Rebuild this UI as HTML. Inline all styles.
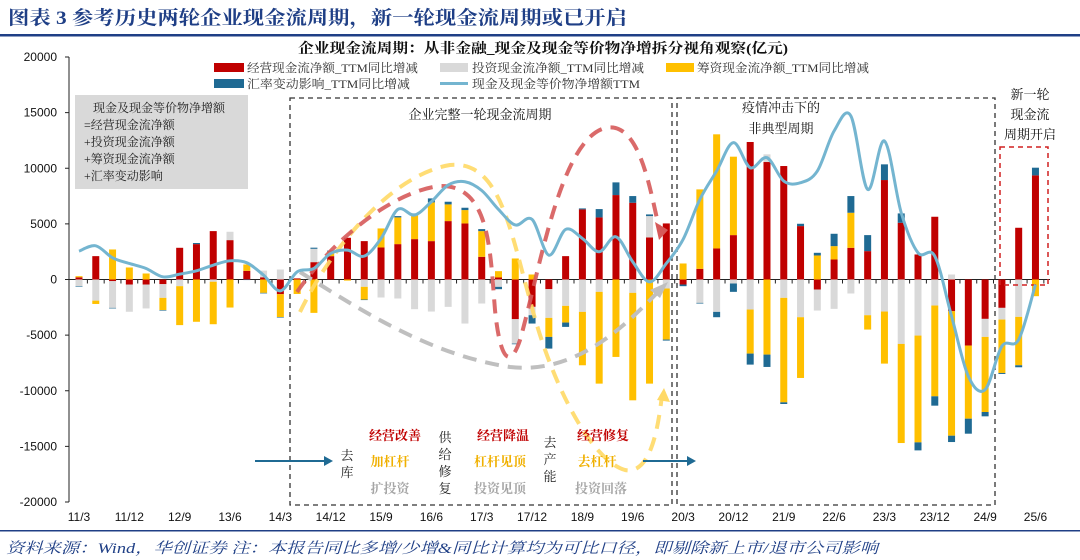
<!DOCTYPE html>
<html><head><meta charset="utf-8"><style>
body{margin:0;background:#fff;}
svg{display:block;font-family:"Liberation Sans","Noto Serif CJK SC","Noto Sans CJK SC",sans-serif;}
.cj{font-family:"Liberation Serif","Noto Serif CJK SC",serif;}
</style></head><body>
<svg id="c" width="1080" height="560" viewBox="0 0 1080 560">
<text x="8" y="24" class="cj" font-size="19" font-weight="bold" fill="#1f3f86" textLength="619" lengthAdjust="spacingAndGlyphs">图表 3  参考历史两轮企业现金流周期，新一轮现金流周期或已开启</text>
<rect x="0" y="34" width="1080" height="2.5" fill="#1f3f86"/>
<text x="298" y="53" class="cj" font-size="14" font-weight="bold" fill="#111" textLength="490" lengthAdjust="spacingAndGlyphs">企业现金流周期：从非金融_现金及现金等价物净增拆分视角观察(亿元)</text>
<g font-size="12" class="cj" fill="#333">
<g><rect x="214" y="63" width="30" height="9" fill="#c00000"/><text x="247" y="72" textLength="171" lengthAdjust="spacingAndGlyphs">经营现金流净额_TTM同比增减</text></g>
<g><rect x="440" y="63" width="28" height="9" fill="#d9d9d9"/><text x="472" y="72" textLength="172" lengthAdjust="spacingAndGlyphs">投资现金流净额_TTM同比增减</text></g>
<g><rect x="666" y="63" width="28" height="9" fill="#ffc000"/><text x="697" y="72" textLength="172" lengthAdjust="spacingAndGlyphs">筹资现金流净额_TTM同比增减</text></g>
<g><rect x="214" y="79" width="30" height="9" fill="#1f6a93"/><text x="247" y="88" textLength="163" lengthAdjust="spacingAndGlyphs">汇率变动影响_TTM同比增减</text></g>
<g><rect x="440" y="82" width="28" height="3" fill="#74b5d0"/><text x="472" y="88" textLength="168" lengthAdjust="spacingAndGlyphs">现金及现金等价物净增额TTM</text></g>
</g>
<g>
<rect x="75" y="95" width="173" height="94" fill="#d9d9d9"/>
<g font-size="12" class="cj" fill="#222">
<text x="93" y="112">现金及现金等价物净增额</text>
<text x="84" y="129">=经营现金流净额</text>
<text x="84" y="146">+投资现金流净额</text>
<text x="84" y="163">+筹资现金流净额</text>
<text x="84" y="180">+汇率变动影响</text>
</g></g>
<g id="axes"></g>
<g id="bars"></g>
<g id="deco" fill="none" stroke-linecap="butt">
<rect x="290" y="98" width="382" height="407" stroke="#333" stroke-width="1.3" stroke-dasharray="5,4"/>
<rect x="677" y="98" width="318" height="407" stroke="#333" stroke-width="1.3" stroke-dasharray="5,4"/>
<rect x="1000" y="147" width="48" height="138" stroke="#d02020" stroke-width="1.5" stroke-dasharray="5,4"/>
<path d="M300,312 C330,250 390,175 450,165 C500,160 510,230 530,300 C550,380 590,460 625,470 C650,475 658,430 662,395" stroke="#ffd966" stroke-width="4" stroke-dasharray="14,9" opacity="0.9"/>
<path d="M297,292 C340,230 400,190 440,186 C490,185 490,250 495,310 C500,360 510,370 520,340 C540,270 560,140 605,128 C640,120 650,190 660,232" stroke="#d65a5a" stroke-width="4" stroke-dasharray="14,9" opacity="0.9"/>
<path d="M300,272 C360,310 430,355 510,367 C580,375 630,320 660,290" stroke="#bfbfbf" stroke-width="4" stroke-dasharray="14,9"/>
<polygon points="655,222 668,230 659,240" fill="#d65a5a"/>
<polygon points="650,290 668,282 660,298" fill="#bfbfbf"/>
<polygon points="657,400 664,388 670,402" fill="#ffd966"/>
<line x1="255" y1="461" x2="326" y2="461" stroke="#1f6a93" stroke-width="2"/>
<polygon points="333,461 324,456 324,466" fill="#1f6a93"/>
<line x1="643" y1="461" x2="688" y2="461" stroke="#1f6a93" stroke-width="2"/>
<polygon points="696,461 687,456 687,466" fill="#1f6a93"/>
</g>
<g id="line"></g>
<g class="cj" font-size="13">
<text x="480" y="119" text-anchor="middle" fill="#111">企业完整一轮现金流周期</text>
<text x="781" y="112" text-anchor="middle" fill="#111">疫情冲击下的</text>
<text x="781" y="133" text-anchor="middle" fill="#111">非典型周期</text>
<text x="1030" y="99" text-anchor="middle" fill="#111">新一轮</text>
<text x="1030" y="119" text-anchor="middle" fill="#111">现金流</text>
<text x="1030" y="139" text-anchor="middle" fill="#111">周期开启</text>
<g font-weight="bold">
<text x="395" y="440" text-anchor="middle" fill="#c00000">经营改善</text>
<text x="390" y="466" text-anchor="middle" fill="#f0b000">加杠杆</text>
<text x="390" y="493" text-anchor="middle" fill="#a6a6a6">扩投资</text>
<text x="503" y="440" text-anchor="middle" fill="#c00000">经营降温</text>
<text x="500" y="466" text-anchor="middle" fill="#f0b000">杠杆见顶</text>
<text x="500" y="493" text-anchor="middle" fill="#a6a6a6">投资见顶</text>
<text x="603" y="440" text-anchor="middle" fill="#c00000">经营修复</text>
<text x="597" y="466" text-anchor="middle" fill="#f0b000">去杠杆</text>
<text x="601" y="493" text-anchor="middle" fill="#a6a6a6">投资回落</text>
</g>
<g fill="#222" text-anchor="middle">
<text x="347" y="460">去</text><text x="347" y="477">库</text>
<text x="445" y="442">供</text><text x="445" y="459">给</text><text x="445" y="476">修</text><text x="445" y="493">复</text>
<text x="550" y="447">去</text><text x="550" y="464">产</text><text x="550" y="481">能</text>
</g></g>
<rect x="0" y="530" width="1080" height="1.5" fill="#1f3f86"/>
<text x="6" y="553" class="cj" font-size="15" font-style="italic" fill="#1f3f86" textLength="872" lengthAdjust="spacingAndGlyphs">资料来源：Wind，华创证券 注：本报告同比多增/少增&amp;同比计算均为可比口径，即剔除新上市/退市公司影响</text>
</svg>
<script>
const quarters=["11/3","11/6","11/9","11/12","12/3","12/6","12/9","12/12","13/3","13/6","13/9","13/12","14/3","14/6","14/9","14/12","15/3","15/6","15/9","15/12","16/3","16/6","16/9","16/12","17/3","17/6","17/9","17/12","18/3","18/6","18/9","18/12","19/3","19/6","19/9","19/12","20/3","20/6","20/9","20/12","21/3","21/6","21/9","21/12","22/3","22/6","22/9","22/12","23/3","23/6","23/9","23/12","24/3","24/6","24/9","24/12","25/3","25/6"];
const operating=[200,2100,-150,-450,-450,-420,2850,3180,4350,3540,780,200,-1320,100,1560,2100,3750,3450,2880,3180,3630,3450,5250,5040,2040,180,-3570,-2460,-870,2100,6300,5580,7590,6900,3780,5040,-450,960,2790,3990,12360,10560,10200,4800,-900,1800,2850,2550,8940,5100,2250,5640,-2850,-5940,-3540,-2550,4650,9360];
const investing=[-600,-1900,-2400,-2450,-2150,-1230,-600,0,-200,750,0,600,900,0,1200,0,0,-660,-1620,-1710,-2670,-2880,-2460,-3960,-2160,-660,-2190,-750,-2580,-2370,-2910,-1110,0,-1200,1920,-810,0,-2100,-2910,-360,-2700,690,-1650,-3390,-1890,-2640,-1260,-3210,-2880,-5790,-5040,-2340,450,0,-1620,-1050,-3360,0];
const financing=[100,-300,2700,1080,540,-1100,-3500,-3800,-3820,-2520,570,-1200,-2050,-1300,-3000,400,-100,-1140,1710,2400,2160,3480,1500,1200,2310,570,1890,450,-1710,-1500,-4800,-8250,-6960,-9660,-9360,-4590,1440,7140,10260,7050,-3960,-6750,-9390,-5460,2160,1200,3150,-1290,-4680,-8910,-9600,-8160,-11190,-6570,-6750,-4800,-4350,-1500];
const fx=[-50,0,-50,0,0,-50,0,100,0,0,-50,-50,-50,0,100,100,0,-50,0,120,150,360,240,210,180,-210,-60,-750,-1050,-390,90,750,1140,600,150,-90,-150,-60,-480,-750,-990,-1110,-150,210,240,1110,1500,1440,1410,840,-720,-840,-570,-1350,-390,-90,-180,690];
const netTTM=[2550,3030,1950,1440,990,240,480,780,1290,1680,1500,390,-1020,690,990,2340,2640,2100,3690,6300,5790,6990,8490,8790,8000,6300,4900,5400,2190,4500,3690,2490,3840,1590,-210,1440,3600,7200,9750,12300,10050,10950,8850,8700,9750,13350,14700,8100,12450,6000,2400,2100,-3300,-8700,-9900,-6000,-5400,-450];
const yTicks=[20000,15000,10000,5000,0,-5000,-10000,-15000,-20000];
const xLabelEvery=3;

const NS="http://www.w3.org/2000/svg";
const y0=279.5, pxPer=222.5/20000, X0=79, DX=16.78, BW=7;
const yS=v=>y0-v*pxPer;
const xS=i=>X0+DX*i;
function mk(t,a,p){const e=document.createElementNS(NS,t);for(const k in a)e.setAttribute(k,a[k]);p.appendChild(e);return e;}
const axes=document.getElementById('axes');
mk('line',{x1:69,y1:yS(20000),x2:69,y2:yS(-20000),stroke:'#222','stroke-width':1},axes);
yTicks.forEach(v=>{
  const t=mk('line',{x1:65,y1:yS(v),x2:69,y2:yS(v),stroke:'#222'},axes);
  
  
  const l=mk('text',{x:57,y:yS(v)+4,'text-anchor':'end','font-size':12,fill:'#111'},axes);
  l.textContent=v;
  
  
});
const za=mk('line',{x1:69,y1:y0,x2:1050,y2:y0,stroke:'#222','stroke-width':1},axes);


quarters.forEach((q,i)=>{
  const tk=mk('line',{x1:xS(i)+DX/2,y1:y0,x2:xS(i)+DX/2,y2:y0+4,stroke:'#222'},axes);
  
  
  if(i%xLabelEvery===0){
    const l=mk('text',{x:xS(i),y:521,'text-anchor':'middle','font-size':12,fill:'#111'},axes);
    l.textContent=q;
    
    
  }
});
const bars=document.getElementById('bars');
const series=[[operating,'#c00000','operating'],[investing,'#d9d9d9','investing'],[financing,'#ffc000','financing'],[fx,'#1f6a93','fx']];
quarters.forEach((q,i)=>{
  let pos=0,neg=0;
  series.forEach(([arr,col,nm])=>{
    const v=arr[i]; if(!v) return;
    let a,b;
    if(v>0){a=pos;b=pos+v;pos=b;}else{a=neg;b=neg+v;neg=b;}
    const r=mk('rect',{x:xS(i)-BW/2,y:Math.min(yS(a),yS(b)),width:BW,height:Math.abs(yS(a)-yS(b)),fill:col},bars);
    
    
  });
});
const pts=netTTM.map((v,i)=>[xS(i),yS(v)]);
let d='M'+pts[0][0]+','+pts[0][1];
for(let i=0;i<pts.length-1;i++){
  const p0=pts[Math.max(0,i-1)],p1=pts[i],p2=pts[i+1],p3=pts[Math.min(pts.length-1,i+2)];
  const c1=[p1[0]+(p2[0]-p0[0])/6,p1[1]+(p2[1]-p0[1])/6],c2=[p2[0]-(p3[0]-p1[0])/6,p2[1]-(p3[1]-p1[1])/6];
  d+=' C'+c1.join(',')+' '+c2.join(',')+' '+p2.join(',');
}
const ln=mk('path',{d:d,fill:'none',stroke:'#74b5d0','stroke-width':3},document.getElementById('line'));


</script>
</body></html>
